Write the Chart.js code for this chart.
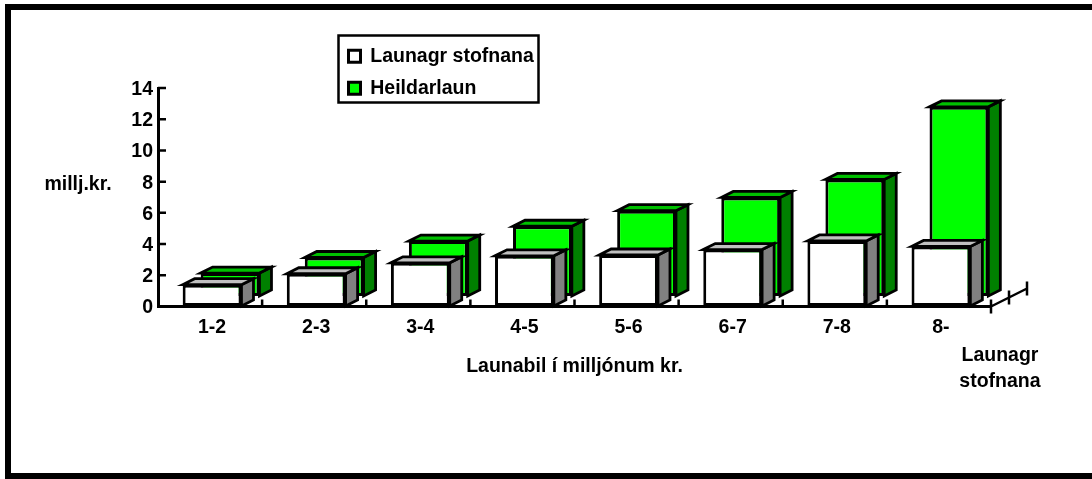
<!DOCTYPE html>
<html>
<head>
<meta charset="utf-8">
<style>
  html, body { margin: 0; padding: 0; background: #fff; overflow: hidden; }
  #wrap { position: relative; width: 1092px; height: 479px; }
  #frame { position: absolute; left: 5px; top: 4px; right: 0; bottom: 0; border: 6px solid #000; border-right: 0; pointer-events: none; }
  canvas { display: block; }
</style>
</head>
<body>
<div id="wrap">
  <canvas id="chart" width="1092" height="479"></canvas>
  <div id="frame"></div>
</div>
<script src="https://cdn.jsdelivr.net/npm/chart.js@4"></script>
<script>
const categories = ['1-2', '2-3', '3-4', '4-5', '5-6', '6-7', '7-8', '8-'];
const launagr = [1.4, 2.1, 2.8, 3.25, 3.3, 3.65, 4.2, 3.85];
const heildarlaun = [1.5, 2.5, 3.55, 4.5, 5.5, 6.35, 7.5, 12.15];
const seriesNames = ['Launagr stofnana', 'Heildarlaun'];
const depthLabel = ['Launagr', 'stofnana'];
const yLabel = 'millj.kr.';
const xLabel = 'Launabil í milljónum kr.';

const FAMILY = '"Liberation Sans", Arial, sans-serif';
const TEXT_SIZE = 19.5;
const LINE = 2.8;

// Row offsets of the fake 3D: front row sits 2px right, back row behind it
const rowShift = [{ x: 2, y: 0 }, { x: 20, y: -10 }];
const depth = { x: 12, y: -6 };

function poly(ctx, pts, fill) {
    ctx.beginPath();
    pts.forEach((p, i) => i ? ctx.lineTo(p[0], p[1]) : ctx.moveTo(p[0], p[1]));
    ctx.closePath();
    ctx.fillStyle = fill;
    ctx.fill();
    ctx.stroke();
}

const boxes3d = {
    id: 'boxes3d',
    beforeDatasetDraw(chart, args) {
        const ctx = chart.ctx;
        const shift = rowShift[args.index];
        const ds = chart.data.datasets[args.index];
        ctx.save();
        ctx.translate(shift.x, shift.y);
        ctx.lineWidth = LINE;
        ctx.strokeStyle = '#000';
        args.meta.data.forEach(bar => {
            const l = bar.x - bar.width / 2;
            const r = bar.x + bar.width / 2;
            poly(ctx, [[r, bar.y], [r + depth.x, bar.y + depth.y], [r + depth.x, bar.base + depth.y], [r, bar.base]], ds.sideColor);
            poly(ctx, [[l, bar.y], [l + depth.x, bar.y + depth.y], [r + depth.x, bar.y + depth.y], [r, bar.y]], ds.topColor);
        });
    },
    afterDatasetDraw(chart) {
        chart.ctx.restore();
    },
    afterDraw(chart) {
        const ctx = chart.ctx;
        const xs = chart.scales.x;
        const ys = chart.scales.y;
        const bottom = xs.top;
        const step = xs.width / categories.length;
        ctx.save();
        ctx.strokeStyle = '#000';
        ctx.fillStyle = '#000';
        ctx.lineWidth = 2.5;

        ctx.beginPath();
        // small ticks between the categories, inside the plot
        for (let i = 1; i < categories.length; i++) {
            ctx.moveTo(xs.left + step * i, bottom);
            ctx.lineTo(xs.left + step * i, bottom - 7);
        }
        // value ticks also point inwards
        ys.ticks.forEach((t, i) => {
            const y = ys.getPixelForTick(i);
            ctx.moveTo(ys.right, y);
            ctx.lineTo(ys.right + 8, y);
        });
        // depth axis at the right end
        const end = xs.right;
        ctx.moveTo(end, bottom);
        ctx.lineTo(end + 36, bottom - 18);
        [0, 18, 36].forEach(d => {
            ctx.moveTo(end + d, bottom - d / 2 - 7);
            ctx.lineTo(end + d, bottom - d / 2 + 7);
        });
        ctx.stroke();

        ctx.font = 'bold ' + TEXT_SIZE + 'px ' + FAMILY;
        ctx.textAlign = 'center';
        ctx.textBaseline = 'middle';
        ctx.fillText(yLabel, 78, 185);
        depthLabel.forEach((t, i) => ctx.fillText(t, 1000, 356 + i * 26));

        // legend frame
        ctx.strokeRect(338.5, 35.5, 200, 67);
        ctx.restore();
    },
    afterLayout(chart) {
        // move the legend into its frame
        const lg = chart.legend;
        lg.left = 336;
        lg.right = 538;
        lg.top = 34;
        lg.bottom = 140;
    }
};

new Chart(document.getElementById('chart'), {
    type: 'bar',
    data: {
        labels: categories,
        datasets: [
            {
                label: seriesNames[0],
                data: launagr,
                backgroundColor: '#ffffff',
                borderColor: '#000000',
                borderWidth: 3,
                borderSkipped: false,
                sideColor: '#808080',
                topColor: '#c0c0c0',
                clip: false
            },
            {
                label: seriesNames[1],
                data: heildarlaun,
                backgroundColor: '#00ff00',
                borderColor: '#000000',
                borderWidth: 3,
                borderSkipped: false,
                sideColor: '#008000',
                topColor: '#00c000',
                clip: false
            }
        ]
    },
    options: {
        responsive: false,
        animation: false,
        grouped: false,
        barPercentage: 0.565,
        categoryPercentage: 1,
        layout: { padding: { top: 88, right: 101, left: 0, bottom: 100.5 } },
        plugins: {
            tooltip: { enabled: false },
            legend: {
                position: 'chartArea',
                align: 'start',
                labels: {
                    color: '#000',
                    font: { family: FAMILY, weight: 'bold', size: TEXT_SIZE },
                    boxWidth: 12,
                    boxHeight: 12,
                    padding: 12.5
                }
            }
        },
        scales: {
            x: {
                afterFit(scale) { scale.height = 72; },
                border: { color: '#000', width: 3 },
                grid: { display: false, drawTicks: false },
                ticks: { color: '#000', font: { family: FAMILY, weight: 'bold', size: TEXT_SIZE }, padding: 9, labelOffset: 2, maxRotation: 0 },
                title: { display: true, text: xLabel, color: '#000', font: { family: FAMILY, weight: 'bold', size: TEXT_SIZE }, padding: { top: 20, bottom: 0 } }
            },
            y: {
                min: 0,
                max: 14,
                afterFit(scale) { scale.width = 158; },
                border: { color: '#000', width: 3 },
                grid: { drawOnChartArea: false, drawTicks: false },
                ticks: { stepSize: 2, color: '#000', font: { family: FAMILY, weight: 'bold', size: TEXT_SIZE }, padding: 5, labelOffset: 1.5 }
            }
        }
    },
    plugins: [boxes3d]
});
</script>
</body>
</html>
